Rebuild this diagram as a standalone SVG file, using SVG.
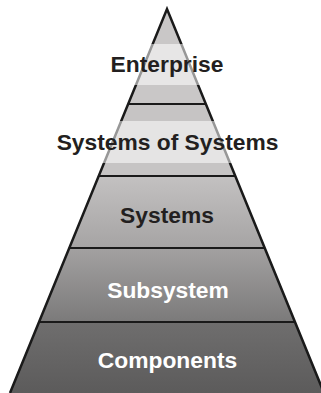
<svg xmlns="http://www.w3.org/2000/svg" width="321" height="393" viewBox="0 0 321 393">
<style>
.lbl{font-family:"Liberation Sans",Arial,sans-serif;font-weight:bold;font-size:22.8px;text-anchor:middle}
.dark{fill:#231f20}
.light{fill:#ffffff}
.div{stroke:#1a1a1a;stroke-width:2.2}
.hl{fill:#ffffff;fill-opacity:0.55}
</style>
<defs>
<clipPath id="tri"><polygon points="167,9 10,393 324,393"/></clipPath>
<linearGradient id="gSys" x1="0" y1="0" x2="0" y2="1"><stop offset="0" stop-color="#c3c1c1"/><stop offset="1" stop-color="#a6a4a4"/></linearGradient>
<linearGradient id="gSub" x1="0" y1="0" x2="0" y2="1"><stop offset="0" stop-color="#a3a1a1"/><stop offset="1" stop-color="#7b7a7a"/></linearGradient>
<linearGradient id="gCmp" x1="0" y1="0" x2="0" y2="1"><stop offset="0" stop-color="#6f6e6e"/><stop offset="1" stop-color="#5c5b5b"/></linearGradient>
</defs>
<g clip-path="url(#tri)">
<g id="enterprise-band"><rect x="0" y="0" width="330" height="104" fill="#c9c7c7"/></g>
<g id="sos-band"><rect x="0" y="104" width="330" height="72" fill="#c6c4c4"/></g>
<g id="systems-band"><rect x="0" y="176" width="330" height="72" fill="url(#gSys)"/></g>
<g id="subsystem-band"><rect x="0" y="248" width="330" height="74" fill="url(#gSub)"/></g>
<g id="components-band"><rect x="0" y="322" width="330" height="71" fill="url(#gCmp)"/></g>
</g>
<g id="connectors">
<line class="div" x1="128.2" y1="104" x2="205.8" y2="104"/>
<line class="div" x1="98.7" y1="176" x2="235.3" y2="176"/>
<line class="div" x1="69.3" y1="248" x2="264.7" y2="248"/>
<line class="div" x1="39" y1="322" x2="295" y2="322"/>
<polyline points="10,393 167,9 324,393" fill="none" stroke="#1a1a1a" stroke-width="2.5" stroke-linejoin="miter"/>
</g>
<rect class="hl" x="0" y="44" width="321" height="41"/>
<rect class="hl" x="0" y="121" width="321" height="42"/>
<g id="enterprise"><text class="lbl dark" x="167" y="72">Enterprise</text></g>
<g id="systems-of-systems"><text class="lbl dark" x="167.5" y="150">Systems of Systems</text></g>
<g id="systems"><text class="lbl dark" x="167" y="223">Systems</text></g>
<g id="subsystem"><text class="lbl light" x="168" y="298">Subsystem</text></g>
<g id="components"><text class="lbl light" x="167.5" y="368">Components</text></g>
</svg>
